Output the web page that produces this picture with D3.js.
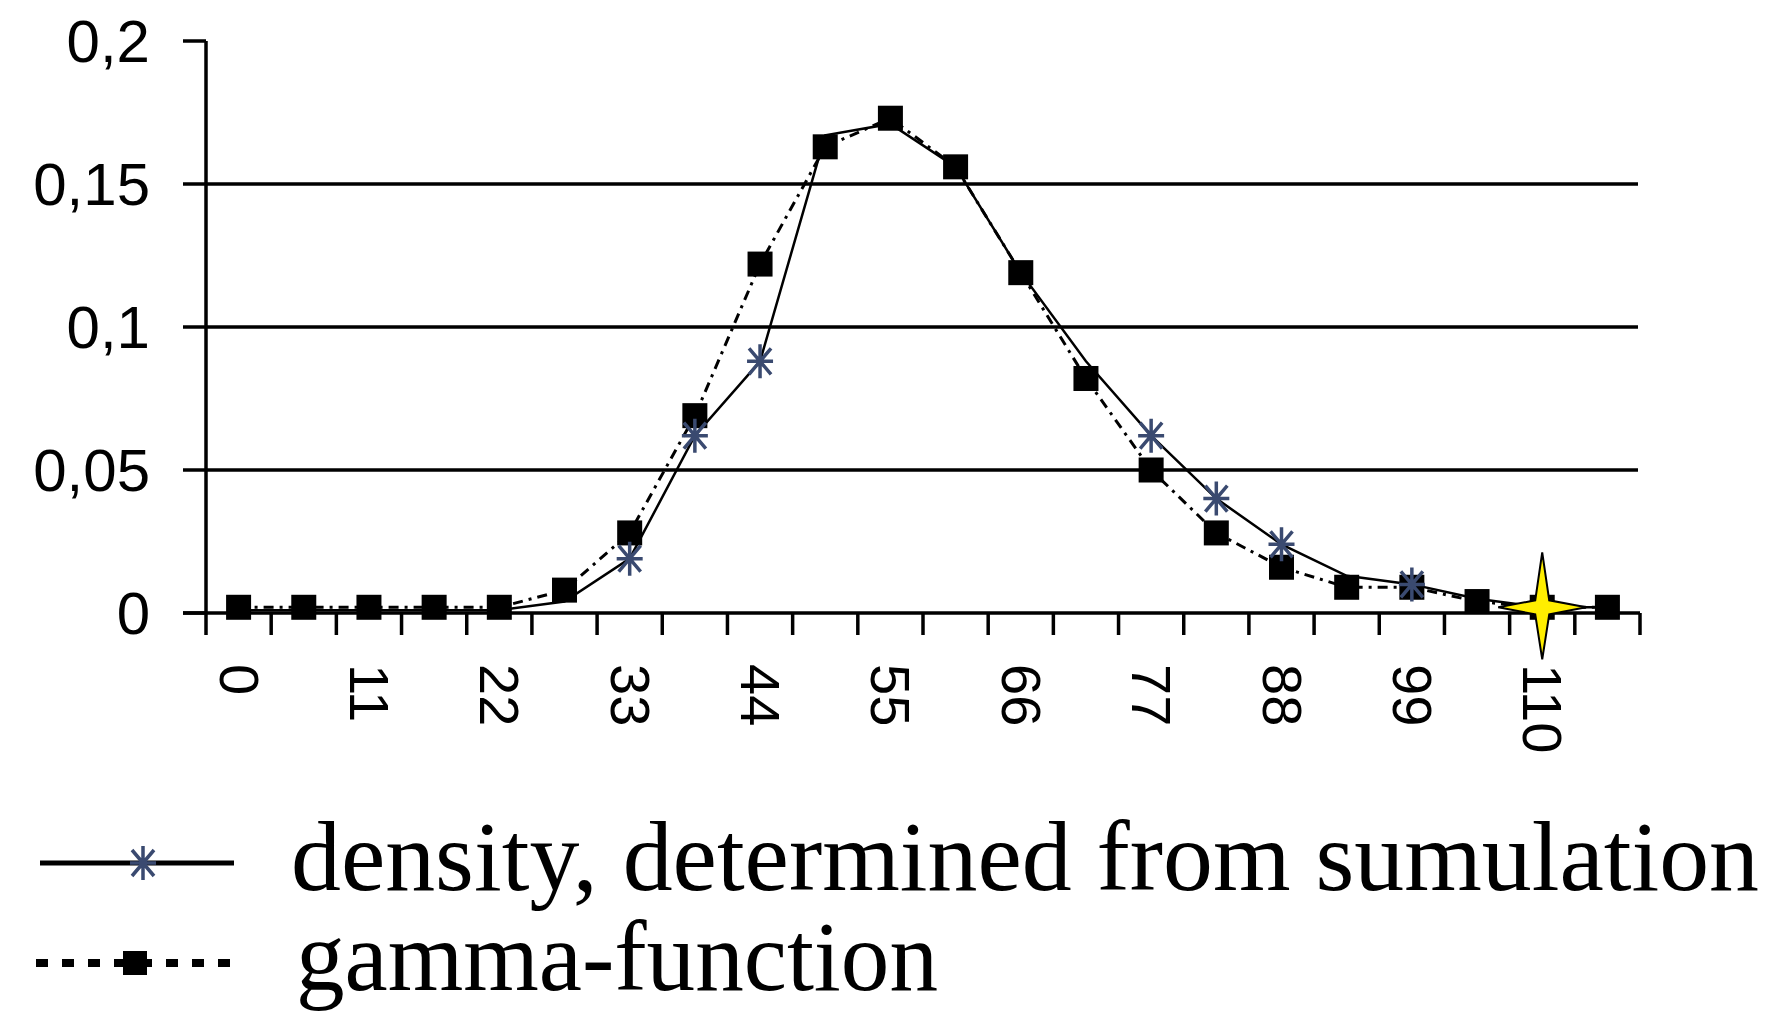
<!DOCTYPE html>
<html><head><meta charset="utf-8">
<script src="https://cdn.jsdelivr.net/npm/d3@7"></script>
<style>body{margin:0;background:#fff}</style>
</head><body>
<svg id="chart" width="1778" height="1028"></svg>
<script>
var categories = [0,5.5,11,16.5,22,27.5,33,38.5,44,49.5,55,60.5,66,71.5,77,82.5,88,93.5,99,104.5,110,115.5];
var simulation = [0.001,0.001,0.001,0.001,0.001,0.004,0.019,0.062,0.088,0.167,0.171,0.156,0.119,0.088,0.062,0.040,0.024,0.013,0.010,0.005,0.002,0.002];
var gamma = [0.002,0.002,0.002,0.002,0.002,0.008,0.028,0.069,0.122,0.163,0.173,0.156,0.119,0.082,0.050,0.028,0.016,0.009,0.009,0.004,0.002,0.002];
var yTicks = [0,0.05,0.1,0.15,0.2];
var xLabels = [0,11,22,33,44,55,66,77,88,99,110];

var svg = d3.select("#chart");
var x = d3.scaleBand().domain(categories).range([206,1640]);
var y = d3.scaleLinear().domain([0,0.2]).range([613,41]);
var cx = function(d){ return x(d) + x.bandwidth()/2; };

// gridlines
svg.selectAll(".grid").data(yTicks.filter(function(d){return d>0 && d<0.2;}))
  .enter().append("line")
  .attr("x1",206).attr("x2",1638)
  .attr("y1",function(d){return y(d);}).attr("y2",function(d){return y(d);})
  .attr("stroke","#000").attr("stroke-width",3.5);

// y axis
svg.append("line").attr("x1",206).attr("x2",206).attr("y1",41).attr("y2",613).attr("stroke","#000").attr("stroke-width",3.5);
svg.selectAll(".yt").data(yTicks).enter().append("line")
  .attr("x1",183).attr("x2",206)
  .attr("y1",function(d){return y(d);}).attr("y2",function(d){return y(d);})
  .attr("stroke","#000").attr("stroke-width",3.5);
svg.selectAll(".yl").data(yTicks).enter().append("text")
  .attr("x",150).attr("y",function(d){return y(d)+21;})
  .attr("text-anchor","end").attr("font-family","Liberation Sans, Arial").attr("font-size",60)
  .attr("fill","#000")
  .text(function(d){ return String(d).replace(".",","); });

// x axis
svg.append("line").attr("x1",183).attr("x2",1640).attr("y1",613).attr("y2",613).attr("stroke","#000").attr("stroke-width",3.5);
var bounds = categories.map(function(d){return x(d);}).concat([1640]);
svg.selectAll(".xt").data(bounds).enter().append("line")
  .attr("x1",function(d){return d;}).attr("x2",function(d){return d;})
  .attr("y1",613).attr("y2",635).attr("stroke","#000").attr("stroke-width",3.5);
svg.selectAll(".xl").data(xLabels).enter().append("text")
  .attr("transform",function(d){return "translate("+(cx(d)-19)+",664) rotate(90)";})
  .attr("font-family","Liberation Sans, Arial").attr("font-size",56).attr("fill","#000")
  .text(function(d){return d;});

// lines
var line1 = d3.line().x(function(d,i){return cx(categories[i]);}).y(function(d){return y(d);});
svg.append("path").datum(gamma).attr("d",line1).attr("fill","none")
  .attr("stroke","#000").attr("stroke-width",3).attr("stroke-dasharray","10,6,3,6");
svg.append("path").datum(simulation).attr("d",line1).attr("fill","none")
  .attr("stroke","#000").attr("stroke-width",2.5);

// markers
var sq = 25;
svg.selectAll(".sq").data(gamma).enter().append("rect")
  .attr("x",function(d,i){return cx(categories[i])-sq/2;})
  .attr("y",function(d){return y(d)-sq/2;})
  .attr("width",sq).attr("height",sq).attr("fill","#000");

function asterisk(g){
  g.append("path").attr("d","M-13,0H13M0,-17V17M-11,-13L11,13M-11,13L11,-13")
    .attr("stroke","#3a4a70").attr("stroke-width",3.5);
}
var showStar = [6,7,8,14,15,16,18];
showStar.forEach(function(i){
  svg.append("g").attr("transform","translate("+cx(categories[i])+","+y(simulation[i])+")").call(asterisk);
});

// highlighted point at 110
var hi = 20;
svg.append("path")
  .attr("transform","translate("+cx(categories[hi])+","+y(simulation[hi])+")")
  .attr("d","M0,-55L7,-7L44,0L7,7L0,52L-7,7L-44,0L-7,-7Z")
  .attr("fill","#ffee00").attr("stroke","#000").attr("stroke-width",2);

// legend
var lg = svg.append("g");
lg.append("line").attr("x1",40).attr("x2",234).attr("y1",863).attr("y2",863).attr("stroke","#000").attr("stroke-width",5);
lg.append("g").attr("transform","translate(143,863)").call(asterisk);
lg.append("text").attr("x",291).attr("y",890).attr("font-family","Liberation Serif, Times New Roman")
  .attr("font-size",100).attr("textLength",1468).attr("lengthAdjust","spacingAndGlyphs")
  .text("density, determined from sumulation");
lg.append("line").attr("x1",36).attr("x2",240).attr("y1",963).attr("y2",963).attr("stroke","#000").attr("stroke-width",8).attr("stroke-dasharray","12,14");
lg.append("rect").attr("x",123).attr("y",951).attr("width",24).attr("height",24).attr("fill","#000");
lg.append("text").attr("x",296).attr("y",990).attr("font-family","Liberation Serif, Times New Roman")
  .attr("font-size",100).attr("textLength",642).attr("lengthAdjust","spacingAndGlyphs")
  .text("gamma-function");
</script>
</body></html>
